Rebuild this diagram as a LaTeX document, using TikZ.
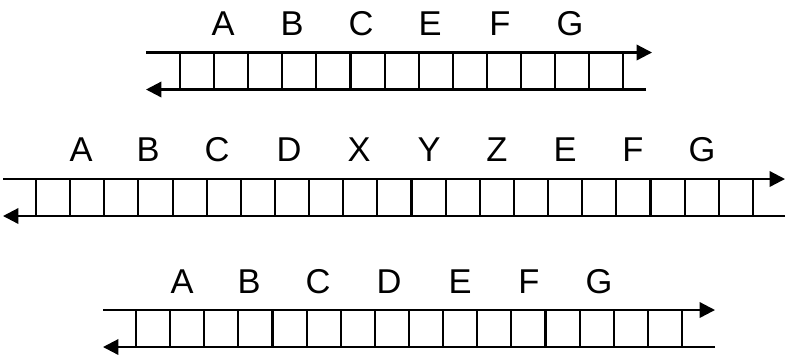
\documentclass[tikz,border=0pt]{standalone}
\usepackage{fontspec}
\setmainfont{Liberation Sans}
\usetikzlibrary{arrows.meta}

\begin{document}
\begin{tikzpicture}[
    x=0.01cm, y=-0.01cm,
    >={Triangle[length=4.4pt,width=4.4pt]},
    strand/.style={line width=0.65pt},
    rung/.style={line width=0.6pt},
    base/.style={font=\fontsize{9.8}{11}\selectfont, inner sep=0pt},
  ]

  \useasboundingbox (0,0) rectangle (786,354);

  % ------------------------------------------------------------------
  % Top duplex: A B C E F G, 14 rungs
  % ------------------------------------------------------------------
  \coordinate (topL) at (146,52.5);
  \coordinate (topR) at (652,52.5);
  \coordinate (topLL) at (146,89.5);
  \coordinate (topRR) at (646,89.5);
  \draw[strand,->] (topL) -- (topR);
  \draw[strand,->] (topRR) -- (topLL);
  \foreach \i in {0,...,13} {
    \draw[rung] (180+\i*34.1,52.5) -- (180+\i*34.1,89.5);
  }
  \foreach \lab/\xx in {A/223,B/292,C/361,E/430,F/500,G/570} {
    \node[base] (top-\lab) at (\xx,24) {\lab};
  }

  % ------------------------------------------------------------------
  % Middle duplex: insertion X Y Z between D and E, 22 rungs
  % ------------------------------------------------------------------
  \coordinate (midL) at (3,179);
  \coordinate (midR) at (785,179);
  \coordinate (midLL) at (3,216);
  \coordinate (midRR) at (785,216);
  \draw[strand,->] (midL) -- (midR);
  \draw[strand,->] (midRR) -- (midLL);
  \foreach \i in {0,...,21} {
    \draw[rung] (36+\i*34.14,179) -- (36+\i*34.14,216);
  }
  \foreach \lab/\xx in {A/81,B/148,C/217,D/289,X/359,Y/429,Z/497,E/565,F/633,G/702} {
    \node[base] (mid-\lab) at (\xx,150) {\lab};
  }

  % ------------------------------------------------------------------
  % Bottom duplex: A B C D E F G, 17 rungs
  % ------------------------------------------------------------------
  \coordinate (botL) at (103,310);
  \coordinate (botR) at (715,310);
  \coordinate (botLL) at (103,347);
  \coordinate (botRR) at (715,347);
  \draw[strand,->] (botL) -- (botR);
  \draw[strand,->] (botRR) -- (botLL);
  \foreach \i in {0,...,16} {
    \draw[rung] (136+\i*34.125,310) -- (136+\i*34.125,347);
  }
  \foreach \lab/\xx in {A/182,B/249,C/318,D/389,E/460,F/529,G/599} {
    \node[base] (bot-\lab) at (\xx,282) {\lab};
  }

\end{tikzpicture}
\end{document}
